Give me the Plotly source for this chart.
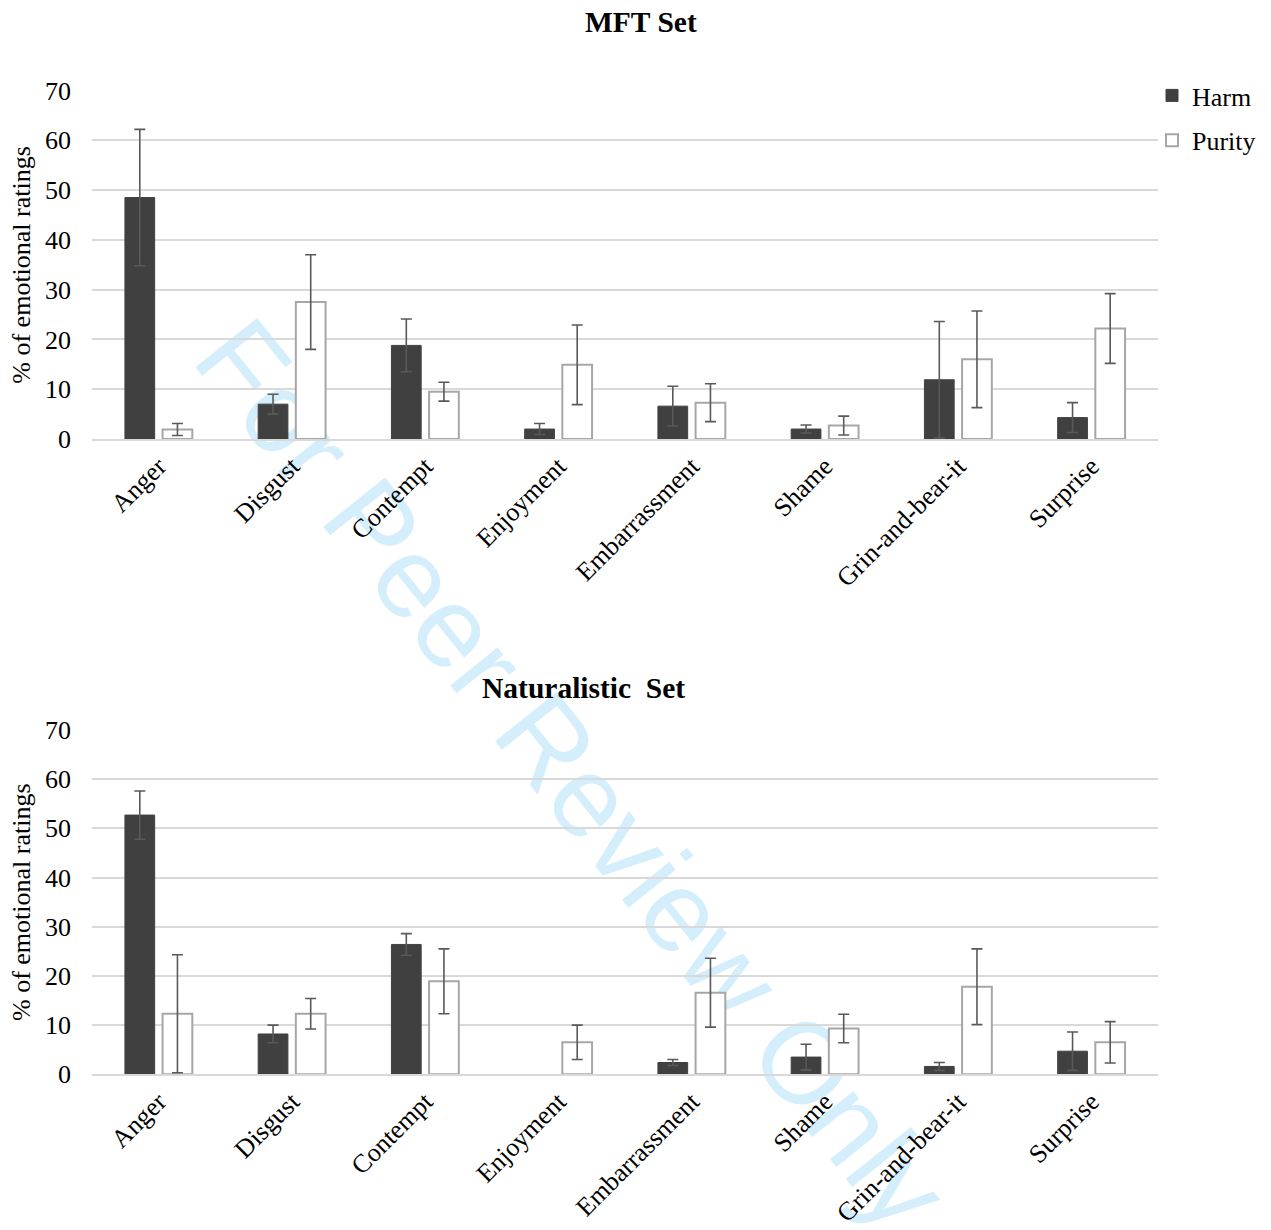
import plotly.graph_objects as go

categories = ["Anger", "Disgust", "Contempt", "Enjoyment", "Embarrassment",
              "Shame", "Grin-and-bear-it", "Surprise"]

mft_harm = [48.5, 7.0, 18.8, 2.0, 6.6, 2.0, 11.9, 4.3]
mft_harm_err = [13.7, 2.0, 5.3, 1.1, 4.0, 0.8, 11.7, 3.0]
mft_purity = [1.9, 27.5, 9.5, 14.9, 7.3, 2.7, 16.0, 22.2]
mft_purity_err = [1.2, 9.5, 1.9, 8.0, 3.8, 1.9, 9.7, 7.0]

nat_harm = [52.7, 8.2, 26.4, None, 2.4, 3.5, 1.6, 4.7]
nat_harm_err = [4.9, 1.8, 2.2, None, 0.6, 2.6, 0.8, 3.9]
nat_purity = [12.3, 12.3, 18.9, 6.5, 16.6, 9.3, 17.8, 6.5]
nat_purity_err = [12.0, 3.1, 6.6, 3.5, 7.0, 2.9, 7.7, 4.2]

y_ticks = [0, 10, 20, 30, 40, 50, 60, 70]

SERIF = "Liberation Serif, Times New Roman, serif"
HARM_COLOR = "#404040"
PURITY_LINE = "#a6a6a6"
ERR_COLOR = "#595959"
GRID = "#d9d9d9"

W, H = 1271, 1230

fig = go.Figure()


def add_pair(harm, harm_err, purity, purity_err, xa, ya, show):
    fig.add_trace(go.Bar(
        x=categories, y=harm, name="Harm", xaxis=xa, yaxis=ya,
        marker=dict(color=HARM_COLOR, line=dict(color=HARM_COLOR, width=1)),
        error_y=dict(type="data", array=harm_err, visible=True,
                     color=ERR_COLOR, thickness=1.6, width=5.5),
        showlegend=show, legendgroup="harm"))
    fig.add_trace(go.Bar(
        x=categories, y=purity, name="Purity", xaxis=xa, yaxis=ya,
        marker=dict(color="#ffffff", line=dict(color=PURITY_LINE, width=2)),
        error_y=dict(type="data", array=purity_err, visible=True,
                     color=ERR_COLOR, thickness=1.6, width=5.5),
        showlegend=show, legendgroup="purity"))


add_pair(mft_harm, mft_harm_err, mft_purity, mft_purity_err, "x", "y", True)
add_pair(nat_harm, nat_harm_err, nat_purity, nat_purity_err, "x2", "y2", False)

x_dom = [92 / W, 1158 / W]
top_dom = [1 - 439 / H, 1 - 90.5 / H]
bot_dom = [1 - 1074.3 / H, 1 - 730 / H]

xaxis_common = dict(
    domain=x_dom, showgrid=False, showline=True, linecolor=GRID, linewidth=1.5,
    ticks="", tickangle=-45, tickfont=dict(family=SERIF, size=26, color="#000000"),
    automargin=False, fixedrange=True)
yaxis_common = dict(
    range=[0, 70], tickvals=y_ticks, showgrid=True, gridcolor=GRID, gridwidth=1.5,
    zeroline=False, showline=False, ticks="", ticklabelstandoff=20,
    tickfont=dict(family=SERIF, size=26, color="#000000"),
    automargin=False, fixedrange=True)

fig.update_layout(
    width=W, height=H,
    margin=dict(l=0, r=0, t=0, b=0),
    paper_bgcolor="#ffffff",
    plot_bgcolor="rgba(0,0,0,0)",
    barmode="group", bargap=0.435, bargroupgap=0.21,
    font=dict(family=SERIF, color="#000000"),
    xaxis=dict(anchor="y", **xaxis_common),
    yaxis=dict(domain=top_dom, anchor="x", **yaxis_common),
    xaxis2=dict(anchor="y2", **xaxis_common),
    yaxis2=dict(domain=bot_dom, anchor="x2", **yaxis_common),
    legend=dict(x=1152 / W, y=1 - 72 / H, xanchor="left", yanchor="top",
                font=dict(family=SERIF, size=26, color="#000000"),
                tracegroupgap=8, bgcolor="rgba(0,0,0,0)", itemwidth=30),
    showlegend=True,
)

# watermark, behind everything
wx, wy = 581, 767
fig.add_shape(
    type="rect", xref="paper", yref="paper", layer="below",
    x0=wx / W - 0.01, x1=wx / W + 0.01, y0=1 - wy / H - 0.01, y1=1 - wy / H + 0.01,
    line=dict(width=0), fillcolor="rgba(0,0,0,0)",
    label=dict(text="For Peer Review Only", textangle=51.3, textposition="middle center",
               font=dict(family="Liberation Sans, Arial, sans-serif", size=115,
                         color="#d4effb")))

annotations = [
    dict(text="<b>MFT Set</b>", x=641 / W, y=1 - 22 / H, font=dict(size=29.5)),
    dict(text="<b>Naturalistic  Set</b>", x=583 / W, y=1 - 688 / H, font=dict(size=29.5)),
    dict(text="% of emotional ratings", x=22 / W, y=1 - 264.7 / H, textangle=-90,
         font=dict(size=26)),
    dict(text="% of emotional ratings", x=22 / W, y=1 - 902 / H, textangle=-90,
         font=dict(size=26)),
]
for a in annotations:
    a.update(xref="paper", yref="paper", showarrow=False, xanchor="center", yanchor="middle")
    a["font"].update(family=SERIF, color="#000000")
    fig.add_annotation(**a)

fig.write_html(
    "out.html",
    config={"displayModeBar": False},
    post_script="document.body.style.margin='0';document.body.style.overflow='hidden';")
